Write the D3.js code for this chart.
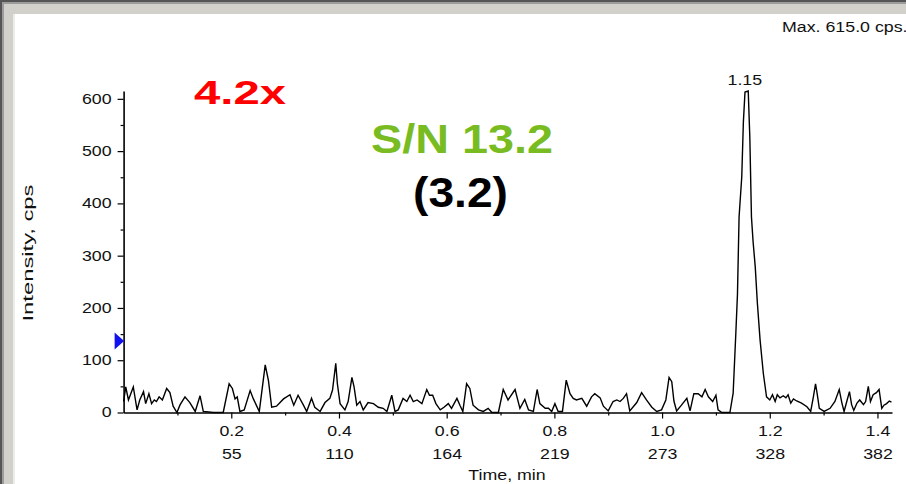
<!DOCTYPE html>
<html lang="en">
<head>
  <meta charset="UTF-8" />
  <title>XIC - Intensity vs Time</title>
  <script src="https://d3js.org/d3.v7.min.js"></script>
  <style>
    html, body {
      margin: 0;
      padding: 0;
      background: #fff;
      overflow: hidden;
    }
    svg {
      display: block;
      font-family: 'Liberation Sans', Arial, sans-serif;
    }
  </style>
</head>
<body>
  <svg width="906" height="484"></svg>

  <script>
    // chromatogram trace (time in min, intensity in cps)
    const timeMin = [
      0.000, 0.004, 0.009, 0.018, 0.025, 0.030, 0.037, 0.041, 0.047, 0.052, 0.057, 0.061, 0.066, 0.072,
      0.080, 0.086, 0.092, 0.099, 0.105, 0.114, 0.123, 0.133, 0.142, 0.148, 0.167, 0.185, 0.196, 0.202,
      0.207, 0.211, 0.216, 0.224, 0.235, 0.241, 0.252, 0.263, 0.269, 0.275, 0.284, 0.297, 0.309, 0.316,
      0.324, 0.334, 0.340, 0.349, 0.355, 0.365, 0.374, 0.383, 0.388, 0.394, 0.397, 0.402, 0.411, 0.417,
      0.424, 0.428, 0.433, 0.439, 0.445, 0.454, 0.464, 0.473, 0.482, 0.489, 0.498, 0.504, 0.510, 0.519,
      0.526, 0.532, 0.538, 0.545, 0.554, 0.563, 0.568, 0.574, 0.580, 0.588, 0.595, 0.603, 0.609, 0.619,
      0.625, 0.630, 0.637, 0.643, 0.649, 0.659, 0.668, 0.677, 0.684, 0.696, 0.705, 0.714, 0.727, 0.736,
      0.745, 0.752, 0.761, 0.768, 0.773, 0.783, 0.789, 0.795, 0.801, 0.807, 0.815, 0.822, 0.829, 0.835,
      0.841, 0.851, 0.860, 0.869, 0.875, 0.885, 0.891, 0.900, 0.909, 0.916, 0.922, 0.928, 0.934, 0.940,
      0.953, 0.962, 0.971, 0.981, 0.990, 0.999, 1.007, 1.013, 1.018, 1.022, 1.027, 1.036, 1.046, 1.052,
      1.059, 1.067, 1.074, 1.080, 1.086, 1.094, 1.100, 1.104, 1.111, 1.126, 1.132, 1.137, 1.140, 1.143,
      1.148, 1.151, 1.154, 1.160, 1.163, 1.166, 1.169, 1.173, 1.177, 1.182, 1.188, 1.194, 1.200, 1.205,
      1.210, 1.214, 1.219, 1.225, 1.230, 1.234, 1.239, 1.244, 1.250, 1.259, 1.269, 1.276, 1.281, 1.285,
      1.288, 1.292, 1.301, 1.312, 1.321, 1.329, 1.334, 1.338, 1.343, 1.348, 1.352, 1.356, 1.362, 1.367,
      1.374, 1.378, 1.383, 1.387, 1.392, 1.398, 1.403, 1.408, 1.412, 1.417, 1.422, 1.426
    ];
    const intensityCps = [
      21, 49, 24, 49, 5, 24, 40, 17, 36, 17, 24, 21, 30, 24,
      46, 38, 12, 0, 15, 30, 19, 2, 32, 2, 0, 0, 55, 46,
      26, 30, 2, 5, 42, 26, 2, 91, 61, 10, 12, 26, 34, 14,
      33, 14, 2, 27, 10, 2, 19, 27, 43, 94, 55, 17, 5, 21,
      67, 49, 14, 21, 5, 19, 17, 10, 8, 2, 33, 2, 5, 27,
      21, 33, 21, 24, 17, 44, 33, 33, 17, 5, 10, 17, 8, 27,
      13, 2, 55, 46, 14, 5, 2, 8, 0, 0, 44, 24, 44, 8,
      25, 5, 2, 44, 17, 8, 8, 2, 17, 2, 2, 62, 36, 27,
      24, 27, 12, 30, 36, 28, 12, 3, 21, 24, 21, 27, 36, 3,
      19, 38, 24, 10, 2, 5, 24, 67, 59, 22, 3, 14, 27, 3,
      36, 36, 30, 44, 30, 21, 33, 5, 0, 0, 37, 152, 226, 374,
      451, 556, 613, 615, 525, 374, 327, 279, 209, 139, 75, 30, 24, 34,
      21, 34, 28, 32, 28, 34, 18, 26, 22, 18, 11, 2, 30, 55,
      36, 8, 2, 8, 21, 44, 18, 2, 21, 40, 15, 4, 18, 24,
      15, 21, 50, 21, 34, 38, 44, 8, 14, 17, 22, 20
    ];

    const yMajorTicks = [0, 100, 200, 300, 400, 500, 600];
    const yMinorTicks = [50, 150, 250, 350, 450, 550];
    const xMajorTicks = [0.2, 0.4, 0.6, 0.8, 1.0, 1.2, 1.4];
    const xMinorTicks = [0.1, 0.3, 0.5, 0.7, 0.9, 1.1, 1.3];
    const scanLabels = [55, 110, 164, 219, 273, 328, 382];

    const maxCps = 615.0;
    const peakTime = 1.15;
    const thresholdCps = 137;

    const svg = d3.select("svg");
    const textStretch = 1.27;

    // legacy software text is drawn wider than the font, so squeeze it out to match
    function widen(sel, k) {
      sel.each(function () {
        const w = this.getComputedTextLength();
        d3.select(this)
          .attr("textLength", w * k)
          .attr("lengthAdjust", "spacingAndGlyphs");
      });
    }

    // window frame
    svg.append("rect").attr("x", 0).attr("y", 0).attr("width", 906).attr("height", 484).attr("fill", "#fff");
    svg.append("rect").attr("x", 0).attr("y", 0).attr("width", 906).attr("height", 14).attr("fill", "#d2d0cb");
    svg.append("rect").attr("x", 0).attr("y", 0).attr("width", 14).attr("height", 484).attr("fill", "#d2d0cb");
    svg.append("rect").attr("x", 0).attr("y", 0).attr("width", 906).attr("height", 2).attr("fill", "#555");
    svg.append("rect").attr("x", 0).attr("y", 0).attr("width", 2).attr("height", 484).attr("fill", "#555");
    svg.append("rect").attr("x", 2).attr("y", 2).attr("width", 904).attr("height", 2).attr("fill", "#9c9c9c");
    svg.append("rect").attr("x", 2).attr("y", 2).attr("width", 2).attr("height", 482).attr("fill", "#9c9c9c");
    svg.append("rect").attr("x", 13).attr("y", 14).attr("width", 2).attr("height", 470).attr("fill", "#ececec");

    const x = d3.scaleLinear().domain([0, 1.427]).range([123.6, 892]);
    const y = d3.scaleLinear().domain([0, maxCps]).range([412.5, 91]);

    // y axis
    const yAxis = svg.append("g")
      .attr("transform", `translate(${x(0)},0)`)
      .call(d3.axisLeft(y).tickValues(yMajorTicks).tickSize(6).tickSizeOuter(0).tickPadding(6));
    svg.append("g")
      .attr("transform", `translate(${x(0)},0)`)
      .call(d3.axisLeft(y).tickValues(yMinorTicks).tickSize(3).tickSizeOuter(0).tickFormat(""))
      .select(".domain").remove();

    // x axis
    const xAxis = svg.append("g")
      .attr("transform", `translate(0,${y(0)})`)
      .call(d3.axisBottom(x).tickValues(xMajorTicks).tickSize(6).tickSizeOuter(0).tickPadding(8)
        .tickFormat(d3.format(".1f")));
    svg.append("g")
      .attr("transform", `translate(0,${y(0)})`)
      .call(d3.axisBottom(x).tickValues(xMinorTicks).tickSize(3).tickSizeOuter(0).tickFormat(""))
      .select(".domain").remove();

    xAxis.selectAll(".tick")
      .append("text")
      .attr("fill", "currentColor")
      .attr("y", 46.5)
      .text((d, i) => scanLabels[i]);

    svg.selectAll(".domain").attr("stroke", "#000").attr("stroke-width", 1.6);
    svg.selectAll(".tick line").attr("stroke", "#000").attr("stroke-width", 1.2);

    const tickTexts = svg.selectAll(".tick text")
      .attr("font-size", null)
      .style("font-size", "14px")
      .style("fill", "#111");
    svg.selectAll("g").attr("font-family", null);
    widen(tickTexts, textStretch);

    // axis titles
    const xTitle = svg.append("text")
      .attr("x", 507)
      .attr("y", 480)
      .attr("text-anchor", "middle")
      .style("font-size", "14px")
      .style("fill", "#111")
      .text("Time, min");
    widen(xTitle, textStretch);

    svg.append("text")
      .attr("transform", "translate(33,253) rotate(-90)")
      .attr("text-anchor", "middle")
      .style("font-size", "15px")
      .style("fill", "#111")
      .attr("textLength", 137)
      .attr("lengthAdjust", "spacingAndGlyphs")
      .text("Intensity, cps");

    const maxLabel = svg.append("text")
      .attr("x", 782)
      .attr("y", 32)
      .style("font-size", "14px")
      .style("fill", "#111")
      .text(`Max. ${maxCps.toFixed(1)} cps.`);
    widen(maxLabel, textStretch);

    // trace
    const points = timeMin.map((t, i) => [t, intensityCps[i]]);
    const line = d3.line()
      .x(d => x(d[0]))
      .y(d => y(d[1]));

    svg.append("path")
      .datum(points)
      .attr("fill", "none")
      .attr("stroke", "#000")
      .attr("stroke-width", 1.4)
      .attr("stroke-linejoin", "miter")
      .attr("d", line);

    const peakLabel = svg.append("text")
      .attr("x", x(peakTime) + 2)
      .attr("y", y(d3.max(intensityCps)) - 6)
      .attr("text-anchor", "middle")
      .style("font-size", "14px")
      .style("fill", "#111")
      .text(peakTime.toFixed(2));
    widen(peakLabel, textStretch);

    // threshold marker on the y axis
    const ty = y(thresholdCps);
    const x0 = x(0);
    svg.append("path")
      .attr("d", `M${x0 - 9},${ty - 8.5}L${x0 + 0.5},${ty}L${x0 - 9},${ty + 8.5}Z`)
      .attr("fill", "#1010f0");

    // annotations
    svg.append("text")
      .attr("x", 194)
      .attr("y", 104)
      .style("font-size", "33px")
      .style("font-weight", "bold")
      .style("fill", "#ff0000")
      .attr("textLength", 92)
      .attr("lengthAdjust", "spacingAndGlyphs")
      .text("4.2x");

    svg.append("text")
      .attr("x", 462)
      .attr("y", 153)
      .attr("text-anchor", "middle")
      .style("font-size", "41px")
      .style("font-weight", "bold")
      .style("fill", "#78bc22")
      .attr("textLength", 182)
      .attr("lengthAdjust", "spacingAndGlyphs")
      .text("S/N 13.2");

    svg.append("text")
      .attr("x", 460.5)
      .attr("y", 207)
      .attr("text-anchor", "middle")
      .style("font-size", "42px")
      .style("font-weight", "bold")
      .style("fill", "#000")
      .attr("textLength", 95)
      .attr("lengthAdjust", "spacingAndGlyphs")
      .text("(3.2)");
  </script>
</body>
</html>
